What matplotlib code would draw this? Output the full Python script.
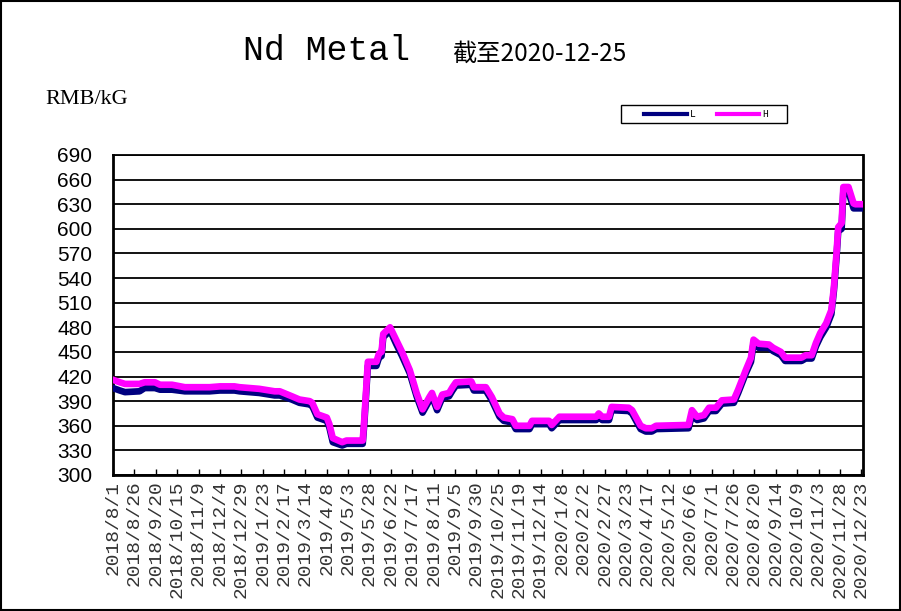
import matplotlib
matplotlib.use("Agg")
import matplotlib.pyplot as plt
import pandas as pd
from matplotlib.lines import Line2D
from matplotlib.patches import Rectangle

# ----------------- DATA -----------------
dates = [
    "2018-08-01", "2018-08-09", "2018-08-15", "2018-09-01", "2018-09-07", "2018-09-19",
    "2018-09-25", "2018-10-09", "2018-10-24", "2018-11-22", "2018-12-04", "2018-12-21",
    "2018-12-27", "2019-01-19", "2019-02-06", "2019-02-12", "2019-02-26", "2019-03-07",
    "2019-03-19", "2019-03-22", "2019-03-28", "2019-04-08", "2019-04-11", "2019-04-15",
    "2019-04-26", "2019-05-01", "2019-05-20", "2019-05-22", "2019-05-26", "2019-06-05",
    "2019-06-08", "2019-06-11", "2019-06-13", "2019-06-21", "2019-06-28", "2019-07-05",
    "2019-07-14", "2019-07-22", "2019-07-29", "2019-08-06", "2019-08-09", "2019-08-15",
    "2019-08-21", "2019-08-29", "2019-09-02", "2019-09-06", "2019-09-24", "2019-09-27",
    "2019-10-11", "2019-10-18", "2019-10-27", "2019-11-01", "2019-11-11", "2019-11-15",
    "2019-12-01", "2019-12-04", "2019-12-24", "2019-12-27", "2020-01-05", "2020-02-17",
    "2020-02-20", "2020-02-24", "2020-03-03", "2020-03-06", "2020-03-26", "2020-03-30",
    "2020-04-09", "2020-04-15", "2020-04-22", "2020-04-27", "2020-06-04", "2020-06-08",
    "2020-06-14", "2020-06-22", "2020-06-28", "2020-07-06", "2020-07-13", "2020-07-27",
    "2020-08-01", "2020-08-10", "2020-08-16", "2020-08-19", "2020-08-25", "2020-09-06",
    "2020-09-11", "2020-09-20", "2020-09-25", "2020-10-14", "2020-10-19", "2020-10-26",
    "2020-10-31", "2020-11-05", "2020-11-12", "2020-11-18", "2020-11-21", "2020-11-24",
    "2020-11-26", "2020-11-30", "2020-12-02", "2020-12-08", "2020-12-14", "2020-12-16",
    "2020-12-25",
]

high = [
    416, 413, 411, 411, 413, 413, 410, 410, 407, 407, 408, 408,
    407, 405, 402, 402, 396, 392, 390, 388, 374, 370, 362, 345,
    340, 342, 342, 370, 438, 438, 448, 450, 472, 480, 465, 450,
    428, 400, 380, 395, 400, 383, 398, 400, 407, 413, 414, 407,
    407, 395, 375, 370, 368, 360, 360, 366, 366, 361, 371, 371,
    375, 371, 371, 383, 382, 379, 360, 357, 357, 360, 361, 379,
    371, 373, 382, 382, 391, 392, 404, 428, 443, 465, 460, 459,
    455, 450, 443, 443, 446, 446, 461, 473, 485, 501, 529, 570,
    602, 607, 651, 651, 631, 630, 630,
]

low = [
    406, 403, 401, 402, 406, 406, 404, 404, 402, 402, 403, 403,
    402, 400, 397, 397, 392, 388, 386, 384, 370, 366, 358, 340,
    336, 338, 338, 365, 433, 433, 443, 445, 468, 476, 460, 445,
    424, 396, 376, 391, 396, 379, 394, 396, 403, 409, 410, 403,
    403, 391, 371, 366, 364, 356, 356, 362, 362, 357, 367, 367,
    371, 367, 367, 379, 378, 375, 356, 353, 353, 356, 357, 373,
    367, 369, 378, 378, 387, 388, 400, 424, 438, 460, 455, 455,
    451, 446, 439, 439, 442, 442, 457, 468, 480, 496, 525, 565,
    597, 600, 645, 645, 625, 625, 625,
]

tick_labels = [
    "2018/8/1", "2018/8/26", "2018/9/20", "2018/10/15", "2018/11/9", "2018/12/4",
    "2018/12/29", "2019/1/23", "2019/2/17", "2019/3/14", "2019/4/8", "2019/5/3",
    "2019/5/28", "2019/6/22", "2019/7/17", "2019/8/11", "2019/9/5", "2019/9/30",
    "2019/10/25", "2019/11/19", "2019/12/14", "2020/1/8", "2020/2/2", "2020/2/27",
    "2020/3/23", "2020/4/17", "2020/5/12", "2020/6/6", "2020/7/1", "2020/7/26",
    "2020/8/20", "2020/9/14", "2020/10/9", "2020/11/3", "2020/11/28", "2020/12/23",
]

y_ticks = list(range(300, 691, 30))

# ----------------- PLOT -----------------
x = pd.to_datetime(dates)
tick_pos = pd.to_datetime(tick_labels, format="%Y/%m/%d")

fig = plt.figure(figsize=(9.01, 6.11), dpi=100)
ax = fig.add_axes([113 / 901, 1 - 475 / 611, 750 / 901, 320 / 611])

ax.plot(x, low, color="#000080", lw=4.8, solid_joinstyle="round", zorder=3)
ax.plot(x, high, color="#ff00ff", lw=4.8, solid_joinstyle="round", zorder=4)

ax.set_ylim(300, 690)
ax.set_yticks(y_ticks)
ax.set_xlim(pd.Timestamp("2018-08-01"), pd.Timestamp("2020-12-25"))
ax.set_xticks(tick_pos)
ax.set_xticklabels(tick_labels, rotation=90, family="Liberation Mono",
                   fontsize=14, color="#333333")
for lab in ax.get_yticklabels():
    lab.set_family("Liberation Sans")
    lab.set_fontsize(15)

ax.tick_params(axis="x", direction="in", length=4, width=1, pad=4)
ax.tick_params(axis="y", length=0, pad=15)
ax.grid(axis="y", color="black", lw=1.3)
ax.set_axisbelow(True)
for side in ["left", "bottom", "right", "top"]:
    ax.spines[side].set_color("black")
    ax.spines[side].set_linewidth(2)
ax.spines["top"].set_linewidth(1.3)

# titles
fig.text(243 / 901, 1 - 60 / 611, "Nd Metal", family="Liberation Mono",
         fontsize=25, va="baseline", ha="left")
fig.text(452 / 901, 1 - 61 / 611, "截至2020-12-25",
         family=["Noto Sans CJK SC", "DejaVu Sans"], fontsize=17.5,
         va="baseline", ha="left")
fig.text(45 / 901, 1 - 104 / 611, "RMB/kG", family="Liberation Serif",
         fontsize=16, va="baseline", ha="left")

# legend: frame drawn separately, entries centred in it
fig.patches.append(Rectangle((621 / 901, 1 - 123 / 611), 166 / 901, 18 / 611,
                             transform=fig.transFigure, fill=False,
                             edgecolor="black", lw=1))
handles = [Line2D([], [], color="#000080", lw=3),
           Line2D([], [], color="#ff00ff", lw=3)]
leg = fig.legend(handles, ["L", "H"], ncol=2, loc="center",
                 bbox_to_anchor=(706 / 901, 1 - 114 / 611),
                 frameon=False, handlelength=4.4, handletextpad=0.3,
                 columnspacing=2.2, borderpad=0, borderaxespad=0,
                 prop={"family": "Liberation Mono", "size": 7})

# outer border
fig.patches.append(Rectangle((0.001, 0.001), 0.998, 0.997, transform=fig.transFigure,
                             fill=False, edgecolor="black", lw=1.5))

fig.savefig("out.png", dpi=100)
